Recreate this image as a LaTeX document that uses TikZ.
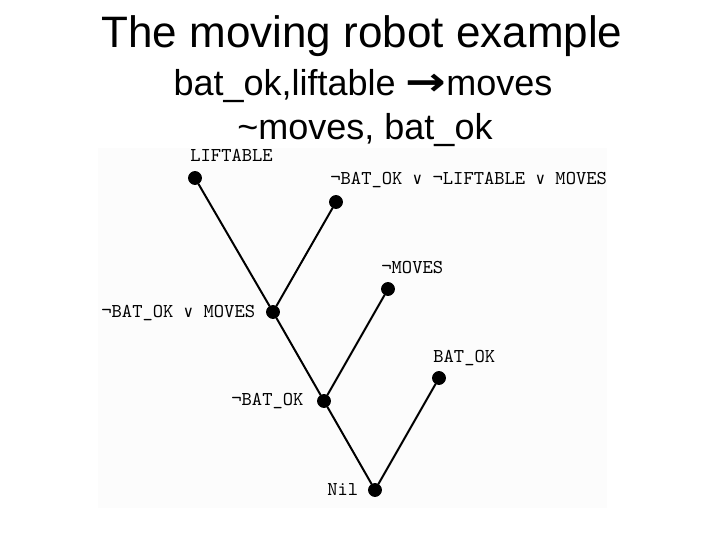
\documentclass[tikz,border=0pt]{standalone}
\usepackage{fontspec}
\setmainfont{Liberation Sans}
\newfontfamily\symfont{DejaVu Sans}
\newfontfamily\symmono{DejaVu Sans Mono}
\definecolor{scangray}{RGB}{252,252,252}
\newcommand{\orsym}{{\symmono\fontsize{8}{10}\selectfont ∨}}

\tikzset{
  dot/.style={draw, circle, fill=black, inner sep=0pt, minimum size=6.5pt},
  lit/.style={font=\fontsize{9.8}{12}\selectfont\ttfamily, inner sep=0pt, anchor=base west},
}

\begin{document}
\begin{tikzpicture}[x=0.5pt, y=-0.5pt]
                    \useasboundingbox (0,0) rectangle (720,540);
                    \fill[scangray] (98,148) rectangle (607,508);

                    % Title
                    \node[font=\fontsize{22}{26}\selectfont, anchor=base] (T) at (362,48) {The moving robot example};
                    \node[font=\fontsize{18}{22}\selectfont, anchor=base] (S1) at (363,96) {bat\_ok,liftable \scalebox{1.35}[1.1]{\symfont\bfseries →}moves};
                    \node[font=\fontsize{18}{22}\selectfont, anchor=base] (S2) at (365,140) {\textasciitilde moves, bat\_ok};

                    % Clauses
                    \node[dot] (A) at (195,178) {};
                    \node[dot] (B) at (336,202) {};
                    \node[dot] (C) at (388,289) {};
                    \node[dot] (D) at (439,378) {};

                    % Resolvents
                    \node[dot] (X) at (273,312) {};
                    \node[dot] (Y) at (324,401) {};
                    \node[dot] (Z) at (375,490) {};

                    % Labels
                    \node[lit] (lA) at (190,162) {LIFTABLE};
                    \node[lit] (lB) at (330,185) {¬BAT\_OK \orsym{} ¬LIFTABLE \orsym{} MOVES};
                    \node[lit] (lC) at (381,274) {¬MOVES};
                    \node[lit] (lD) at (433,363) {BAT\_OK};
                    \node[lit] (lX) at (101,318) {¬BAT\_OK \orsym{} MOVES};
                    \node[lit] (lY) at (231,406) {¬BAT\_OK};
                    \node[lit] (lZ) at (327,496) {Nil};

                    \draw[line width=1pt] (A) -- (X) -- (B);
                    \draw[line width=1pt] (X) -- (Y) -- (C);
                    \draw[line width=1pt] (Y) -- (Z) -- (D);
                \end{tikzpicture}
\end{document}
